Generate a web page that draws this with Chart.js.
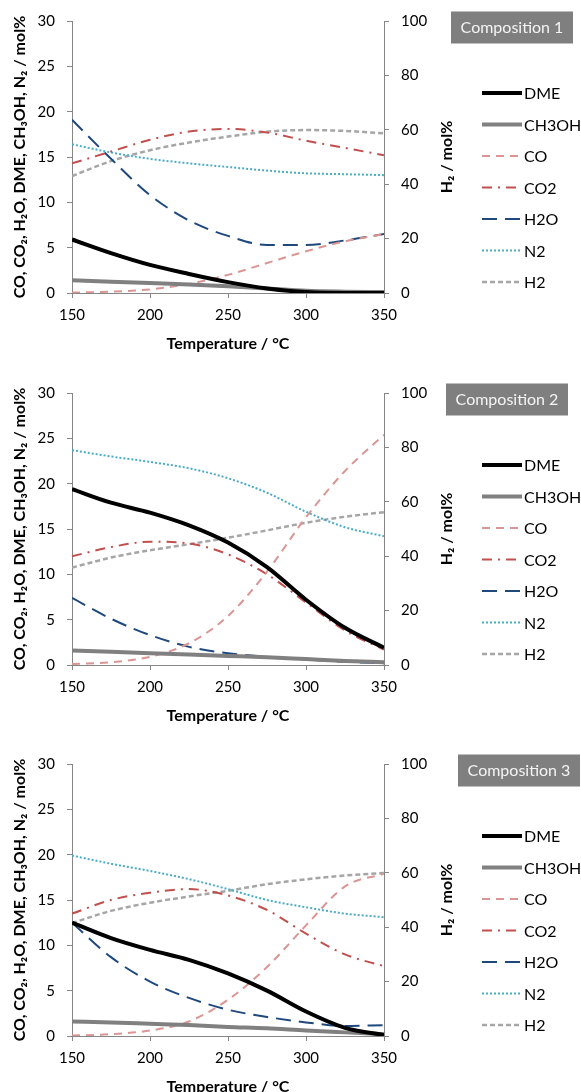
<!DOCTYPE html>
<html>
<head>
<meta charset="utf-8">
<script src="https://cdn.jsdelivr.net/npm/chart.js@4.4.1/dist/chart.umd.min.js"></script>
<style>
  html, body { margin: 0; padding: 0; background: #fff; overflow: hidden; }
  .panel { position: absolute; left: 0; width: 581px; height: 371px; }
</style>
</head>
<body>
<div class="panel" style="top:0px"><canvas id="chart-1" width="581" height="371"></canvas></div>
<div class="panel" style="top:372px"><canvas id="chart-2" width="581" height="371"></canvas></div>
<div class="panel" style="top:743px"><canvas id="chart-3" width="581" height="371"></canvas></div>
<script>
// x values (temperature, °C)
const temperature = [150, 175, 200, 225, 250, 275, 300, 325, 350];
const seriesNames = ['DME', 'CH3OH', 'CO', 'CO2', 'H2O', 'N2', 'H2'];
const compositionLabels = ['Composition 1', 'Composition 2', 'Composition 3'];

// Composition 1 (mol%)
const dme1   = [5.9, 4.4, 3.1, 2.1, 1.2, 0.5, 0.1, 0.0, 0.0];
const ch3oh1 = [1.4, 1.25, 1.1, 0.95, 0.75, 0.5, 0.25, 0.15, 0.1];
const co1    = [0.05, 0.15, 0.4, 1.0, 2.0, 3.3, 4.6, 5.7, 6.5];
const co2_1  = [14.3, 15.6, 16.9, 17.8, 18.1, 17.7, 16.8, 16.0, 15.2];
const h2o1   = [19.1, 14.8, 10.8, 8.0, 6.3, 5.3, 5.3, 5.8, 6.5];
const n2_1   = [16.4, 15.5, 14.8, 14.3, 13.9, 13.5, 13.2, 13.1, 13.0];
const h2_1   = [43.0, 48.5, 52.5, 55.3, 57.5, 59.3, 59.9, 59.6, 58.7];

// Composition 2
const dme2   = [19.4, 17.9, 16.8, 15.4, 13.5, 10.8, 7.2, 4.1, 1.9];
const ch3oh2 = [1.6, 1.45, 1.3, 1.15, 1.0, 0.85, 0.65, 0.45, 0.3];
const co2    = [0.1, 0.3, 0.9, 2.4, 5.4, 10.3, 16.3, 21.4, 25.4];
const co2_2  = [12.0, 13.0, 13.6, 13.4, 12.2, 10.0, 6.9, 3.8, 1.7];
const h2o2   = [7.4, 5.1, 3.3, 2.0, 1.3, 0.9, 0.6, 0.35, 0.2];
const n2_2   = [23.7, 23.0, 22.4, 21.7, 20.6, 19.0, 16.9, 15.2, 14.2];
const h2_2   = [35.8, 39.5, 42.2, 44.4, 46.8, 49.5, 52.3, 54.5, 56.2];

// Composition 3
const dme3   = [12.5, 10.8, 9.5, 8.4, 6.9, 5.0, 2.7, 0.9, 0.1];
const ch3oh3 = [1.6, 1.5, 1.35, 1.2, 1.0, 0.85, 0.6, 0.4, 0.2];
const co3    = [0.05, 0.2, 0.6, 1.6, 4.0, 7.6, 12.2, 16.5, 17.9];
const co2_3  = [13.5, 15.0, 15.8, 16.2, 15.5, 13.9, 11.3, 9.0, 7.7];
const h2o3   = [12.5, 8.7, 6.0, 4.2, 2.9, 2.1, 1.5, 1.1, 1.2];
const n2_3   = [19.9, 19.0, 18.2, 17.3, 16.2, 15.0, 14.2, 13.5, 13.1];
const h2_3   = [41.5, 46.0, 49.0, 51.3, 53.4, 55.8, 57.6, 59.0, 59.9];

// line styles per series
const styles = {
  DME:   { color: '#000000', width: 4,   dash: [] },
  CH3OH: { color: '#808080', width: 4,   dash: [] },
  CO:    { color: '#d99694', width: 2,   dash: [8, 6] },
  CO2:   { color: '#c0504d', width: 2,   dash: [10, 6, 2, 6] },
  H2O:   { color: '#1f497d', width: 2,   dash: [15, 8] },
  N2:    { color: '#4bacc6', width: 2,   dash: [2, 2] },
  H2:    { color: '#a6a6a6', width: 2.5, dash: [5, 3] }
};

const FONT = "Lato, 'DejaVu Sans', sans-serif";
Chart.defaults.font.family = FONT;
Chart.defaults.font.size = 15;
Chart.defaults.color = '#000';

const axisGray = '#868686';

// legend lines, right axis title (reads upward) and "Composition n" box
const overlayPlugin = {
  id: 'overlay',
  afterDraw(chart, args, opts) {
    const ctx = chart.ctx;
    const area = chart.chartArea;
    ctx.save();
    chart.data.datasets.forEach((ds, i) => {
      const y = 93 + i * 31.5;
      ctx.beginPath();
      ctx.setLineDash(ds.borderDash);
      ctx.lineWidth = ds.borderWidth;
      ctx.strokeStyle = ds.borderColor;
      ctx.moveTo(482, y);
      ctx.lineTo(522, y);
      ctx.stroke();
      ctx.setLineDash([]);
      ctx.fillStyle = '#000';
      ctx.font = '16px ' + FONT;
      ctx.textBaseline = 'middle';
      ctx.textAlign = 'left';
      ctx.fillText(ds.label, 524, y + 1);
    });

    ctx.save();
    ctx.translate(447, (area.top + area.bottom) / 2);
    ctx.rotate(-Math.PI / 2);
    ctx.font = 'bold 16px ' + FONT;
    ctx.fillStyle = '#000';
    ctx.textAlign = 'center';
    ctx.textBaseline = 'middle';
    ctx.fillText(opts.rightTitle, 0, 0);
    ctx.restore();

    ctx.fillStyle = '#7f7f7f';
    ctx.fillRect(opts.boxX, 11.5, 122, 32);
    ctx.fillStyle = '#f4f4f4';
    ctx.font = '16px ' + FONT;
    ctx.textAlign = 'center';
    ctx.textBaseline = 'middle';
    ctx.fillText(opts.text, opts.boxX + 61, 28);
    ctx.restore();
  }
};

function makeChart(id, label, boxX, values) {
  const datasets = seriesNames.map((name, i) => ({
    label: name,
    data: values[i],
    yAxisID: name === 'H2' ? 'y1' : 'y',
    borderColor: styles[name].color,
    borderWidth: styles[name].width,
    borderDash: styles[name].dash,
    pointRadius: 0,
    fill: false,
    cubicInterpolationMode: 'monotone'
  }));

  return new Chart(document.getElementById(id), {
    type: 'line',
    data: { labels: temperature, datasets: datasets },
    options: {
      responsive: false,
      animation: false,
      layout: { padding: { top: 20, right: 125, bottom: 0, left: 0 } },
      plugins: {
        legend: { display: false },
        tooltip: { enabled: false },
        overlay: { text: label, boxX: boxX, rightTitle: 'H₂ / mol%' }
      },
      scales: {
        x: {
          type: 'linear',
          min: 150,
          max: 350,
          ticks: { stepSize: 50, padding: 8 },
          grid: { drawOnChartArea: false, drawTicks: true, tickLength: 5, color: axisGray },
          border: { color: axisGray },
          title: {
            display: true,
            text: 'Temperature / °C',
            font: { size: 16, weight: 'bold' },
            padding: { top: 0, bottom: 18 }
          },
          afterFit: s => { s.height = 78; }
        },
        y: {
          position: 'left',
          min: 0,
          max: 30,
          ticks: { stepSize: 5, padding: 12 },
          grid: { drawOnChartArea: false, drawTicks: true, tickLength: 5, color: axisGray },
          border: { color: axisGray },
          title: {
            display: true,
            text: 'CO, CO₂, H₂O, DME, CH₃OH, N₂ / mol%',
            font: { size: 16, weight: 'bold' },
            padding: { top: 10, bottom: 0 }
          },
          afterFit: s => { s.width = 72; }
        },
        y1: {
          position: 'right',
          min: 0,
          max: 100,
          ticks: { stepSize: 20, padding: 12 },
          grid: { drawOnChartArea: false, drawTicks: true, tickLength: 5, color: axisGray },
          border: { color: axisGray },
          afterFit: s => { s.width = 72; }
        }
      }
    },
    plugins: [overlayPlugin]
  });
}

makeChart('chart-1', compositionLabels[0], 451, [dme1, ch3oh1, co1, co2_1, h2o1, n2_1, h2_1]);
makeChart('chart-2', compositionLabels[1], 446, [dme2, ch3oh2, co2, co2_2, h2o2, n2_2, h2_2]);
makeChart('chart-3', compositionLabels[2], 458, [dme3, ch3oh3, co3, co2_3, h2o3, n2_3, h2_3]);
</script>
</body>
</html>
